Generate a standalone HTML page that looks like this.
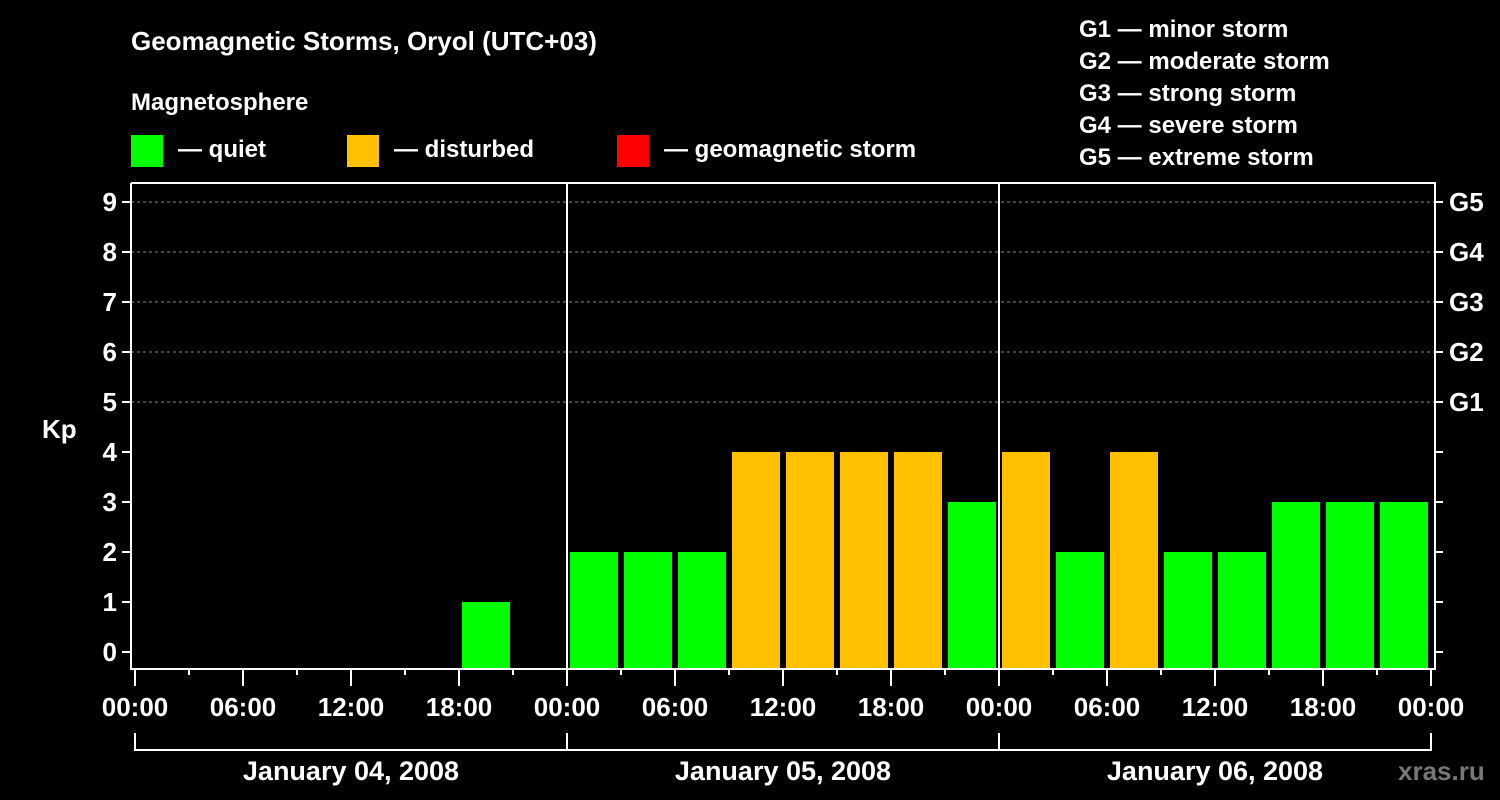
<!DOCTYPE html>
<html><head><meta charset="utf-8"><style>
body{margin:0;background:#000;}
svg{display:block;font-family:"Liberation Sans",sans-serif;font-weight:bold;}
</style></head><body>
<svg id="c" width="1500" height="800" viewBox="0 0 1500 800">
<rect width="1500" height="800" fill="#000"/>
<text x="131" y="50" fill="#fff" font-size="26">Geomagnetic Storms, Oryol (UTC+03)</text>
<text x="131" y="110" fill="#fff" font-size="24">Magnetosphere</text>
<rect x="131" y="135" width="32" height="32" fill="#00ff00"/>
<text x="178" y="157" fill="#fff" font-size="24">— quiet</text>
<rect x="347" y="135" width="32" height="32" fill="#ffc000"/>
<text x="394" y="157" fill="#fff" font-size="24">— disturbed</text>
<rect x="617" y="135" width="32" height="32" fill="#ff0000"/>
<text x="664" y="157" fill="#fff" font-size="24">— geomagnetic storm</text>
<g fill="#fff" font-size="24">
<text x="1079" y="37">G1 — minor storm</text>
<text x="1079" y="69">G2 — moderate storm</text>
<text x="1079" y="101">G3 — strong storm</text>
<text x="1079" y="133">G4 — severe storm</text>
<text x="1079" y="165">G5 — extreme storm</text>
</g>
<text x="42" y="438" fill="#fff" font-size="26">Kp</text>
<g id="plot"></g>
<text x="1398" y="780" fill="#777" font-size="26">xras.ru</text>
</svg>
<script>
const days = ["January 04, 2008","January 05, 2008","January 06, 2008"];
const kpValues = [null,null,null,null,null,null,1,null, 2,2,2,4,4,4,4,3, 4,2,4,2,2,3,3,3];
const yTicks = [0,1,2,3,4,5,6,7,8,9];
const gLabels = ["G1","G2","G3","G4","G5"];
const hourLabels = ["00:00","06:00","12:00","18:00"];

const NS="http://www.w3.org/2000/svg";
const g=document.getElementById('plot');
const X0=135, SLOT=54, DAYW=SLOT*8, TOP=183, BOT=668, LEFT=131, RIGHT=1435;
const yS=v=>652-v*50;
const xS=i=>X0+i*SLOT;
function mk(t,a,p){const e=document.createElementNS(NS,t);for(const k in a)e.setAttribute(k,a[k]);(p||g).appendChild(e);return e;}
// grid
yTicks.forEach(v=>{
  if(v>=5){const l=mk('line',{x1:LEFT,x2:RIGHT,y1:yS(v),y2:yS(v),stroke:'#888','stroke-dasharray':'3,3','stroke-width':1});
  
  }
  const t=mk('line',{x1:LEFT-9,x2:LEFT,y1:yS(v),y2:yS(v),stroke:'#fff','stroke-width':2});
  
  
  const rt=mk('line',{x1:RIGHT,x2:RIGHT+8,y1:yS(v),y2:yS(v),stroke:'#fff','stroke-width':2});
  
  
  const tx=mk('text',{x:LEFT-14,y:yS(v)+9,fill:'#fff','font-size':26,'text-anchor':'end'});
  tx.textContent=v;
  
  
});
gLabels.forEach((s,i)=>{
  const tx=mk('text',{x:RIGHT+14,y:yS(5+i)+9,fill:'#fff','font-size':26});
  tx.textContent=s;
  
  
});
// bars
kpValues.forEach((v,i)=>{
  if(v===null)return;
  const col=v>=5?'#ff0000':(v>=4?'#ffc000':'#00ff00');
  const r=mk('rect',{x:xS(i)+3,y:yS(v),width:48,height:BOT-yS(v),fill:col});
  
  
});
// axes
const ax=mk('path',{d:`M${LEFT} ${TOP}V${BOT+1}H${RIGHT}V${TOP}H${LEFT}`,stroke:'#fff','stroke-width':2,fill:'none'});


for(let d=1;d<days.length;d++){
  const l=mk('line',{x1:X0+d*DAYW,x2:X0+d*DAYW,y1:TOP,y2:BOT,stroke:'#fff','stroke-width':2});
  
  
}
for(let i=0;i<=days.length*8;i++){
  const major=i%2===0;
  const t=mk('line',{x1:xS(i),x2:xS(i),y1:BOT,y2:major?686:675,stroke:'#fff','stroke-width':2});
  
  
  if(major){
    const tx=mk('text',{x:xS(i),y:716,fill:'#fff','font-size':26,'text-anchor':'middle'});
    tx.textContent=hourLabels[(i/2)%4];
    
    
  }
}
const br=mk('path',{d:`M${X0} 733V750H${X0+days.length*DAYW}V733`,stroke:'#fff','stroke-width':2,fill:'none'});


days.forEach((s,d)=>{
  if(d>0){const l=mk('line',{x1:X0+d*DAYW,x2:X0+d*DAYW,y1:733,y2:750,stroke:'#fff','stroke-width':2});
  
  }
  const tx=mk('text',{x:X0+d*DAYW+DAYW/2,y:780,fill:'#fff','font-size':27,'text-anchor':'middle'});
  tx.textContent=s;
  
  
});
</script>
</body></html>
